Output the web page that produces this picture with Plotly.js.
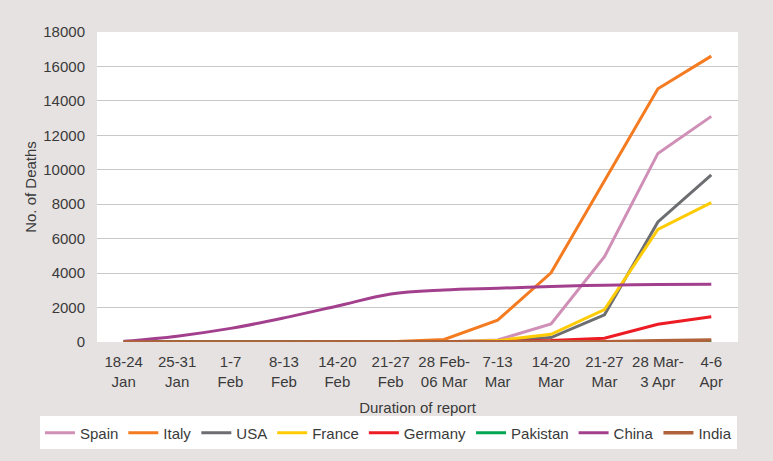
<!DOCTYPE html>
<html>
<head>
<meta charset="utf-8">
<script src="https://cdn.plot.ly/plotly-3.0.1.min.js"></script>
<style>html,body{margin:0;padding:0;background:#e6e2e1;}#chart{width:773px;height:461px;}</style>
</head>
<body>
<div id="chart"></div>
<script>
var categories = ['18-24<br>Jan','25-31<br>Jan','1-7<br>Feb','8-13<br>Feb','14-20<br>Feb','21-27<br>Feb','28 Feb-<br>06 Mar','7-13<br>Mar','14-20<br>Mar','21-27<br>Mar','28 Mar-<br>3 Apr','4-6<br>Apr'];
var seriesNames = ['Spain','Italy','USA','France','Germany','Pakistan','China','India'];
var spain    = [0,0,0,0,0,0,10,120,1050,4950,10950,13100];
var italy    = [0,0,0,0,0,17,150,1270,4020,9350,14700,16600];
var usa      = [0,0,0,0,0,0,10,40,260,1580,6970,9700];
var france   = [0,0,0,0,0,0,5,80,450,1880,6540,8090];
var germany  = [0,0,0,0,0,0,0,10,80,220,1030,1460];
var pakistan = [0,0,0,0,0,0,0,0,1,5,25,45];
var china    = [40,340,790,1400,2090,2790,3020,3120,3220,3300,3340,3360];
var india    = [0,0,0,0,0,0,0,0,5,20,70,110];
var yTicks   = [0,2000,4000,6000,8000,10000,12000,14000,16000,18000];

var values = [spain, italy, usa, france, germany, pakistan, china, india];
var colors = ['#d08fb6','#f47b20','#6d6e71','#ffcb05','#ed1c24','#00a651','#a3408e','#b0623a'];

var traces = seriesNames.map(function(n,i){
  return {
    x: categories, y: values[i], type:'scatter', mode:'lines', name:n,
    line:{color:colors[i], width: (n==='India') ? 3.5 : 3, shape: (n==='China') ? 'spline' : 'linear'},
    hoverinfo:'skip'
  };
});

var layout = {
  width:773, height:461,
  paper_bgcolor:'#e6e2e1', plot_bgcolor:'#ffffff',
  margin:{l:97, r:35, t:32, b:119},
  font:{family:'Arial, "Liberation Sans", sans-serif', size:15, color:'#3a3a3a'},
  showlegend:true,
  xaxis:{
    type:'category', range:[-0.5, 11.5], showgrid:false, zeroline:false,
    showline:false, ticks:'', tickfont:{size:15, color:'#3a3a3a'}, ticklabelstandoff:9,
    title:{text:'Duration of report', font:{size:15, color:'#3a3a3a'}, standoff:13},
    automargin:false
  },
  yaxis:{
    range:[0,18000], tickvals:yTicks, ticktext:yTicks.map(String),
    showgrid:true, gridcolor:'#c8c8c8', gridwidth:1, zeroline:false, showline:false,
    tickfont:{size:15, color:'#3a3a3a'}, ticks:'', ticklabelstandoff:11,
    title:{text:'No. of Deaths', font:{size:15, color:'#3a3a3a'}, standoff:3},
    automargin:false
  },
  legend:{
    orientation:'h', x:-0.089, xanchor:'left', y:-0.24, yanchor:'top',
    bgcolor:'#ffffff', font:{size:15, color:'#3a3a3a'}, itemwidth:30,
    tracegroupgap:0
  }
};

Plotly.newPlot('chart', traces, layout, {displayModeBar:false, staticPlot:true});
</script>
</body>
</html>
